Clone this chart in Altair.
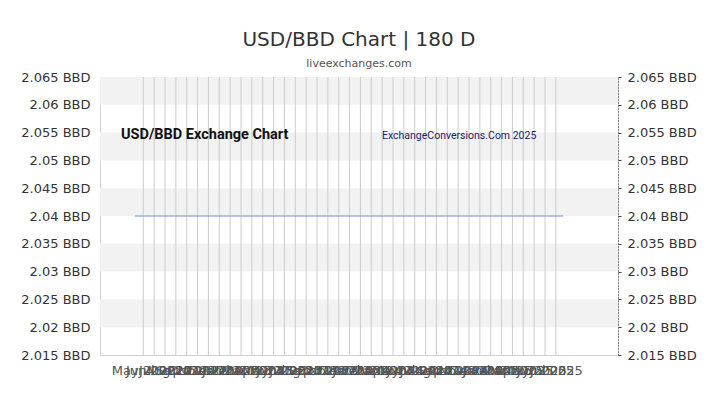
import altair as alt
import pandas as pd

# ---- data ----
days = list(range(180))
rates = [2.04] * 180  # flat line at 2.04 BBD across the 180 days

band_low = [2.06, 2.05, 2.04, 2.03, 2.02]
band_high = [2.065, 2.055, 2.045, 2.035, 2.025]

y_ticks = [2.015, 2.02, 2.025, 2.03, 2.035, 2.04, 2.045, 2.05, 2.055, 2.06, 2.065]

tick_labels = [
    "May 2022", "Jun 2022", "Jul 2022", "Aug 2022", "Sep 2022", "Oct 2022", "Nov 2022", "Dec 2022",
    "Jan 2023", "Feb 2023", "Mar 2023", "Apr 2023", "May 2023", "Jun 2023", "Jul 2023", "Aug 2023",
    "Sep 2023", "Oct 2023", "Nov 2023", "Dec 2023", "Jan 2024", "Feb 2024", "Mar 2024", "Apr 2024",
    "May 2024", "Jun 2024", "Jul 2024", "Aug 2024", "Sep 2024", "Oct 2024", "Nov 2024", "Dec 2024",
    "Jan 2025", "Feb 2025", "Mar 2025", "Apr 2025", "May 2025", "Jun 2025", "Jul 2025",
]
tick_start = 3.5
tick_step = 4.54
x_ticks = [round(tick_start + i * tick_step, 3) for i in range(len(tick_labels))]
x_domain = [-14.6, 202.0]

line_df = pd.DataFrame({"day": days, "rate": rates})
band_df = pd.DataFrame({"lo": band_low, "hi": band_high})
tick_df = pd.DataFrame({"day": x_ticks})

FONT = "DejaVu Sans"
NARROW = "Roboto"
label_arr = "[" + ",".join("'" + s + "'" for s in tick_labels) + "]"

yscale = alt.Scale(domain=[2.015, 2.065], nice=False, zero=False)
xscale = alt.Scale(domain=x_domain, nice=False, zero=False)

x_axis = alt.Axis(
    values=x_ticks, title=None, grid=False,
    ticks=False, domain=False, labelOverlap=False, labelBound=False, labelFlush=False,
    labelExpr=label_arr + "[round((datum.value - %s) / %s)]" % (tick_start, tick_step),
    labelFontSize=13, labelColor="#555", labelFont=FONT, labelPadding=9,
)

bands = alt.Chart(band_df).mark_rect(color="#f2f2f2").encode(
    x=alt.value(0),
    x2=alt.value(518),
    y=alt.Y("lo:Q", scale=yscale, axis=alt.Axis(
        orient="left", values=y_ticks, title=None, grid=False, ticks=False, domain=False,
        labelExpr="format(datum.value, '.3~f') + ' BBD'",
        labelFontSize=13, labelColor="#333", labelFont=FONT, labelPadding=10,
    )),
    y2="hi:Q",
)

vgrid = alt.Chart(tick_df).mark_rule(color="#cccccc", strokeWidth=1).encode(
    x=alt.X("day:Q", scale=xscale, axis=x_axis),
    y=alt.value(0),
    y2=alt.value(278),
)

line = alt.Chart(line_df).mark_line(color="#6a8cc8", strokeWidth=1).encode(
    x=alt.X("day:Q", scale=xscale, axis=x_axis),
    y=alt.Y("rate:Q", scale=yscale, axis=alt.Axis(
        orient="right", values=y_ticks, title=None, grid=False,
        domain=True, domainColor="#444", domainDash=[1, 2], domainWidth=1,
        ticks=True, tickColor="#444", tickSize=3,
        labelExpr="format(datum.value, '.3~f') + ' BBD'",
        labelFontSize=13, labelColor="#333", labelFont=FONT, labelPadding=6,
    )),
)

wm1 = alt.Chart(pd.DataFrame({"t": ["USD/BBD Exchange Chart"]})).mark_text(
    font=NARROW, fontWeight="bold", fontSize=14.5, color="#111",
    align="left", baseline="middle",
).encode(x=alt.value(21), y=alt.value(58), text="t:N")

wm2 = alt.Chart(pd.DataFrame({"t": ["ExchangeConversions.Com 2025"]})).mark_text(
    font=NARROW, fontSize=10.5, color="#1c1c6b",
    align="left", baseline="middle",
).encode(x=alt.value(282), y=alt.value(59), text="t:N")

chart = alt.layer(bands, vgrid, wm1, wm2, line).resolve_scale(y="independent").properties(
    width=518,
    height=278,
    autosize=alt.AutoSizeParams(type="none"),
    padding={"left": 92, "top": 69, "right": 94, "bottom": 42},
    title=alt.TitleParams(
        text="USD/BBD Chart | 180 D",
        subtitle="liveexchanges.com",
        anchor="middle", font=FONT, fontSize=20, fontWeight="normal", color="#333",
        subtitleFont=FONT, subtitleFontSize=11, subtitleColor="#555",
        subtitlePadding=8, offset=2,
    ),
).configure_view(stroke="#d0d0d0", strokeWidth=1)

chart.save("out.html", embed_options={"renderer": "svg", "actions": False})
